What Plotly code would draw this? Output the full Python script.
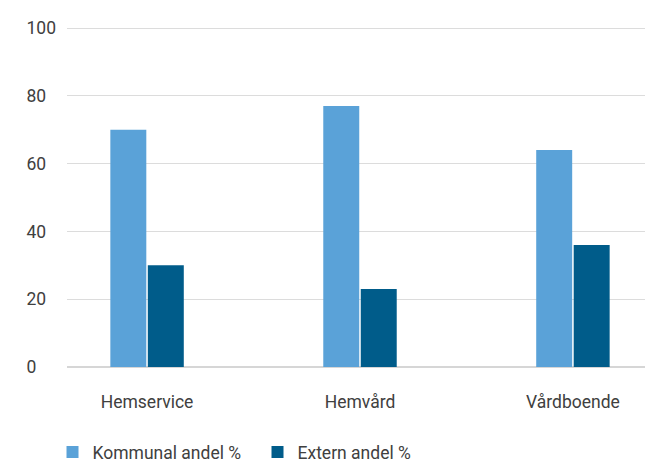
import plotly.graph_objects as go

categories = ["Hemservice", "Hemvård", "Vårdboende"]
kommunal = [70, 77, 64]
extern = [30, 23, 36]
y_ticks = [0, 20, 40, 60, 80, 100]
y_tick_labels = ["0\u2007\u2007", "20\u2007", "40\u2007", "60\u2007", "80\u2007", "100"]

fig = go.Figure()
fig.add_trace(go.Bar(x=categories, y=kommunal, name="Kommunal andel %",
                     marker=dict(color="#5aa2d8", line_width=0)))
fig.add_trace(go.Bar(x=categories, y=extern, name="Extern andel %",
                     marker=dict(color="#005c8a", line_width=0)))

font = dict(family="Roboto, sans-serif", size=17.5, color="#404040")

# the page body adds an 8px margin, so the figure is sized to the visible area
fig.update_layout(
    width=645,
    height=454,
    margin=dict(l=59, r=0, t=19, b=95),
    paper_bgcolor="white",
    plot_bgcolor="white",
    font=font,
    barmode="group",
    bargap=0.648,
    bargroupgap=0.04,
    showlegend=True,
    legend=dict(orientation="h", xref="container", x=0.069, xanchor="left",
                yref="container", y=0.022, yanchor="middle",
                entrywidth=160, entrywidthmode="pixels", font=font),
)
fig.update_xaxes(range=[-0.376, 2.376], showgrid=False, showline=False,
                 ticks="", ticklabelstandoff=22, tickfont=font, automargin=False)
fig.update_yaxes(range=[0, 100.3], tickvals=y_ticks, ticktext=y_tick_labels,
                 gridcolor="#dcdcdc", gridwidth=1, zeroline=True,
                 zerolinecolor="#d6d6d6", zerolinewidth=2, showline=False,
                 ticks="", ticklabelstandoff=10, tickfont=font, automargin=False)

fig.write_html("out.html")
